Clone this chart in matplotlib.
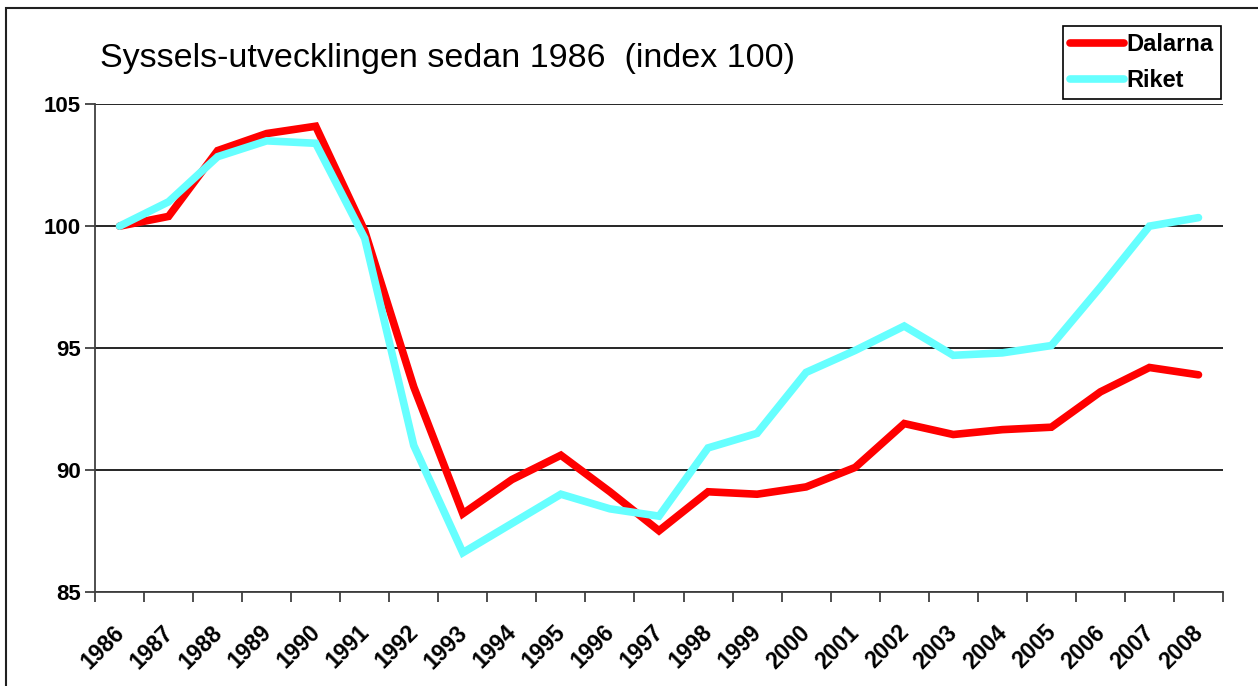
import matplotlib
matplotlib.use("Agg")
import matplotlib.pyplot as plt
from matplotlib.patches import Rectangle
from matplotlib.transforms import ScaledTranslation

plt.rcParams["font.family"] = ["Liberation Sans", "DejaVu Sans"]

years = [str(y) for y in range(1986, 2009)]
dalarna = [100.0, 100.4, 103.1, 103.8, 104.1, 99.8, 93.4, 88.2, 89.6, 90.6, 89.1,
           87.5, 89.1, 89.0, 89.3, 90.1, 91.9, 91.45, 91.65, 91.75, 93.2, 94.2, 93.9]
riket = [100.0, 101.0, 102.85, 103.5, 103.4, 99.5, 91.0, 86.6, 87.8, 89.0, 88.4,
         88.1, 90.9, 91.5, 94.0, 94.9, 95.9, 94.7, 94.8, 95.1, 97.5, 100.0, 100.35]
y_ticks = [85, 90, 95, 100, 105]

W, H = 1258, 686
fig = plt.figure(figsize=(W / 100, H / 100), dpi=100)
ax = fig.add_axes([95 / W, 1 - 591.7 / H, (1223 - 95) / W, (591.7 - 104.3) / H])

x = list(range(len(years)))
ax.plot(x, dalarna, color="#FF0000", lw=5.5, label="Dalarna",
        solid_joinstyle="miter", solid_capstyle="round", zorder=3)
ax.plot(x, riket, color="#66FFFF", lw=5.5, label="Riket",
        solid_joinstyle="miter", solid_capstyle="round", zorder=3)

ax.set_xlim(-0.5, len(years) - 0.5)
ax.set_ylim(85, 105)
ax.set_yticks(y_ticks)
ax.set_yticklabels([str(v) for v in y_ticks], fontsize=16, fontweight="bold")
ax.yaxis.grid(True, color="black", lw=1.2)
ax.set_axisbelow(True)

# labels at category centres, tick marks on the boundaries
ax.set_xticks(x)
ax.set_xticklabels(years, rotation=45, ha="right", va="top", fontsize=16.5, fontweight="bold")
ax.set_xticks([i - 0.5 for i in range(len(years) + 1)], minor=True)
ax.tick_params(axis="x", which="major", length=0, pad=21)
ax.tick_params(axis="x", which="minor", length=7, width=1.3, color="#404040")
ax.tick_params(axis="y", length=7, width=1.3, color="#404040", pad=3)
for lbl in ax.get_xticklabels():
    lbl.set_transform(lbl.get_transform() + ScaledTranslation(0.09, 0, fig.dpi_scale_trans))

for s in ["top", "right"]:
    ax.spines[s].set_visible(False)
for s in ["left", "bottom"]:
    ax.spines[s].set_color("#404040")
    ax.spines[s].set_linewidth(1.3)

fig.text(100 / W, 1 - 67 / H, "Syssels-utvecklingen sedan 1986  (index 100)",
         fontsize=24.5, va="baseline", ha="left")

leg = ax.legend(loc="upper right", bbox_to_anchor=(1221 / W, 1 - 26 / H),
                bbox_transform=fig.transFigure, borderaxespad=0, fancybox=False,
                edgecolor="black", framealpha=1, prop={"weight": "bold", "size": 17},
                handlelength=2.3, handletextpad=0.1, borderpad=0.3, labelspacing=0.55)
leg.get_frame().set_linewidth(1.2)

fig.patches.append(Rectangle((6 / W, -0.1), 2, (H - 8) / H + 0.1, transform=fig.transFigure,
                             fill=False, edgecolor="#202020", lw=1.5))

fig.savefig("out.png", dpi=100)
